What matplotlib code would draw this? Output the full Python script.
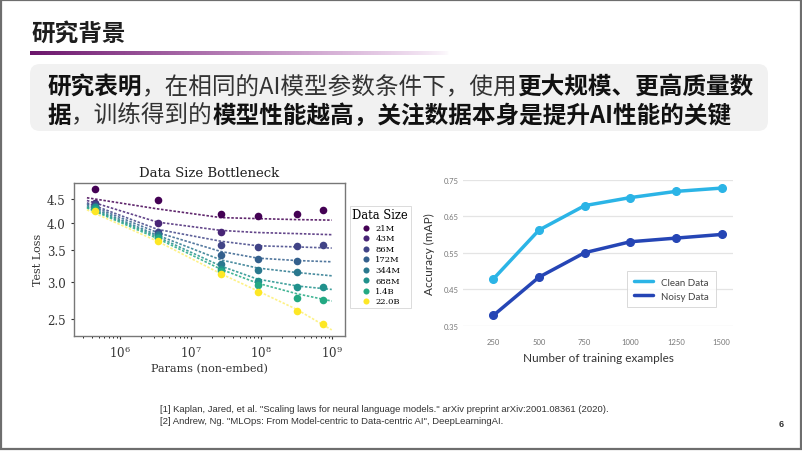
import numpy as np
import matplotlib
matplotlib.use('Agg')
import matplotlib.pyplot as plt
from matplotlib.colors import LogNorm
from matplotlib.patches import FancyBboxPatch, Rectangle
from matplotlib.ticker import FixedLocator, FixedFormatter, NullFormatter

plt.rcParams['font.family'] = ['Noto Sans CJK SC', 'DejaVu Sans']
plt.rcParams['mathtext.fontset'] = 'dejavuserif'

# ---- left chart: test loss vs params for each data size
data_labels = ['21M', '43M', '86M', '172M', '344M', '688M', '1.4B', '22.0B']
data_tokens = [2.1e7, 4.3e7, 8.6e7, 1.72e8, 3.44e8, 6.88e8, 1.4e9, 2.2e10]
params = [4.4e5, 3.4e6, 2.7e7, 8.9e7, 3.2e8, 7.4e8]
nan = np.nan
loss_21m = [4.72, 4.48, 4.18, 4.14, 4.18, 4.26]
loss_43m = [4.42, 4.01, 3.83, nan, nan, nan]
loss_86m = [4.39, 3.83, 3.60, 3.56, 3.58, 3.59]
loss_172m = [4.36, 3.80, 3.42, 3.35, 3.33, nan]
loss_344m = [4.34, 3.77, 3.28, 3.18, 3.15, nan]
loss_688m = [4.32, 3.74, 3.20, 3.01, 2.92, 2.93]
loss_1_4b = [4.29, 3.71, 3.17, 2.95, 2.77, 2.75]
loss_22b = [4.24, 3.66, 3.12, 2.86, 2.60, 2.44]

# fitted curves read at a few params values
fit_params = [3.4e5, 3.4e6, 2.7e7, 8.9e7, 3.2e8, 1.0e9]
fit_21m = [4.53, 4.29, 4.11, 4.09, 4.07, 4.06]
fit_43m = [4.47, 4.02, 3.86, 3.82, 3.80, 3.78]
fit_86m = [4.42, 3.88, 3.66, 3.58, 3.56, 3.54]
fit_172m = [4.39, 3.82, 3.48, 3.37, 3.33, 3.31]
fit_344m = [4.36, 3.77, 3.34, 3.21, 3.14, 3.09]
fit_688m = [4.33, 3.74, 3.24, 3.04, 2.94, 2.89]
fit_1_4b = [4.31, 3.71, 3.19, 2.98, 2.83, 2.73]
fit_22b = [4.27, 3.66, 3.12, 2.87, 2.62, 2.37]

losses = [loss_21m, loss_43m, loss_86m, loss_172m, loss_344m, loss_688m, loss_1_4b, loss_22b]
fits = [fit_21m, fit_43m, fit_86m, fit_172m, fit_344m, fit_688m, fit_1_4b, fit_22b]
loss_ticks = [2.5, 3.0, 3.5, 4.0, 4.5]

# ---- right chart: accuracy vs number of training examples
examples = [250, 500, 750, 1000, 1250, 1500]
clean_acc = [0.478, 0.612, 0.679, 0.701, 0.718, 0.727]
noisy_acc = [0.378, 0.483, 0.550, 0.580, 0.590, 0.600]
acc_ticks = [0.35, 0.45, 0.55, 0.65, 0.75]

W, H = 802, 452
fig = plt.figure(figsize=(W / 100, H / 100), dpi=100)
fig.patch.set_facecolor('white')

# background axes in pixel units
bg = fig.add_axes([0, 0, 1, 1])
bg.axis('off')
bg.set_zorder(-1)

bg.add_patch(Rectangle((1, 1), W - 2, H - 3, fill=False, ec='#6e6e6e', lw=1.6))

# title + gradient bar
bg.text(31, 34, '研究背景', fontsize=17, fontweight='bold', color='#1e1e1e', va='center')
grad = np.zeros((1, 256, 4))
t = np.linspace(0, 1, 256)
c0 = np.array([0.42, 0.08, 0.42])
c1 = np.array([0.75, 0.45, 0.75])
grad[0, :, :3] = c0 * (1 - t[:, None]) + c1 * t[:, None]
grad[0, :, 3] = (1 - t) ** 0.6
bg.imshow(grad, extent=(30, 450, 56, 52), aspect='auto', zorder=1)
bg.set_xlim(0, W)
bg.set_ylim(H, 0)

# grey text box
bg.add_patch(FancyBboxPatch((30, 65), 738, 67, boxstyle='round,pad=0,rounding_size=10',
                            fc='#f1f1f1', ec='none'))

renderer = fig.canvas.get_renderer()


def rich_line(x, y, segments, size=17):
    for s, bold in segments:
        txt = bg.text(x, y, s, fontsize=size, fontweight='bold' if bold else 'normal',
                      color='#111111' if bold else '#333333', va='center', ha='left')
        x += txt.get_window_extent(renderer=renderer).width


rich_line(47, 87, [('研究表明', True), ('，在相同的AI模型参数条件下，使用', False),
                   ('更大规模、更高质量数', True)])
rich_line(47, 116, [('据', True), ('，训练得到的', False),
                    ('模型性能越高，关注数据本身是提升AI性能的关键', True)])

# references
bg.text(160, 410, '[1] Kaplan, Jared, et al. "Scaling laws for neural language models." '
        'arXiv preprint arXiv:2001.08361 (2020).', family='Liberation Sans',
        fontsize=6.8, color='#333333', va='center')
bg.text(160, 422, '[2] Andrew, Ng. "MLOps: From Model-centric to Data-centric AI", DeepLearningAI.',
        family='Liberation Sans', fontsize=6.8, color='#333333', va='center')
bg.text(779, 425, '6', family='Liberation Sans', fontsize=6.5, fontweight='bold',
        color='#333333', va='center')

# ---- left chart
serif = 'DejaVu Serif'
ax1 = fig.add_axes([74 / W, 1 - 336.5 / H, 271 / W, 152.5 / H])
norm = LogNorm(vmin=min(data_tokens), vmax=max(data_tokens))
cmap = plt.get_cmap('viridis')
for lab, d, ys, fy in zip(data_labels, data_tokens, losses, fits):
    col = cmap(norm(d))
    ax1.plot(fit_params, fy, ls=(0, (1.5, 1)), lw=1.2, color=col,
             alpha=0.55 if d == data_tokens[-1] else 0.85)
    ax1.scatter(params, ys, s=30, color=col, label=lab, zorder=3, linewidths=0)
ax1.set_xscale('log')
ax1.set_yscale('log')
ax1.set_xlim(2.23e5, 1.54e9)
ax1.set_ylim(2.306, 4.87)
ax1.yaxis.set_major_locator(FixedLocator(loss_ticks))
ax1.yaxis.set_major_formatter(FixedFormatter([f'{v:.1f}' for v in loss_ticks]))
ax1.yaxis.set_minor_formatter(NullFormatter())
for lbl in ax1.get_xticklabels() + ax1.get_yticklabels():
    lbl.set_family(serif)
ax1.tick_params(labelsize=8.5, colors='#333333', length=2.5)
ax1.tick_params(which='minor', length=1.5)
for sp in ax1.spines.values():
    sp.set_color('#777777')
    sp.set_linewidth(1.0)
ax1.set_title('Data Size Bottleneck', family=serif, fontsize=9.5, color='#222222', pad=5)
ax1.set_xlabel('Params (non-embed)', family=serif, fontsize=8, color='#333333', labelpad=2)
ax1.set_ylabel('Test Loss', family=serif, fontsize=8, color='#333333', labelpad=3)
leg1 = ax1.legend(loc='upper left', bbox_to_anchor=(350 / W, 1 - 207 / H),
                  bbox_transform=fig.transFigure, title='Data Size', borderaxespad=0,
                  prop={'family': serif, 'size': 6}, frameon=True, fancybox=False,
                  edgecolor='#cccccc', labelspacing=0.3, handletextpad=0.4,
                  borderpad=0.3, handlelength=1.4, markerscale=0.8)
leg1.get_title().set_family(serif)
leg1.get_title().set_fontsize(8.3)
leg1.get_frame().set_linewidth(0.6)

# ---- right chart
sans = 'Lato'
ax2 = fig.add_axes([463 / W, 1 - 326.7 / H, 270 / W, 146 / H])
clean_col = '#2bb4e6'
noisy_col = '#2545b5'
ax2.plot(examples, clean_acc, color=clean_col, lw=2.5, marker='o', ms=5.5, label='Clean Data',
         zorder=3, solid_capstyle='round')
ax2.plot(examples, noisy_acc, color=noisy_col, lw=2.5, marker='o', ms=5.5, label='Noisy Data',
         zorder=3, solid_capstyle='round')
ax2.set_xlim(84, 1562)
ax2.set_ylim(0.35, 0.75)
ax2.set_xticks(examples)
ax2.set_yticks(acc_ticks)
ax2.set_yticklabels([f'{v:.2f}' for v in acc_ticks])
ax2.grid(axis='y', color='#e4e4e4', lw=0.9)
ax2.set_axisbelow(True)
for sp in ax2.spines.values():
    sp.set_visible(False)
ax2.tick_params(length=0, labelsize=5.5, colors='#777777', pad=3)
ax2.tick_params(axis='x', pad=9)
for lbl in ax2.get_xticklabels() + ax2.get_yticklabels():
    lbl.set_family(sans)
ax2.set_ylabel('Accuracy (mAP)', family=sans, fontsize=8.5, color='#333333', labelpad=6)
ax2.set_xlabel('Number of training examples', family=sans, fontsize=8.5, color='#333333',
               labelpad=5)
leg2 = ax2.legend(loc='upper left', bbox_to_anchor=(627 / W, 1 - 272 / H),
                  bbox_transform=fig.transFigure, prop={'family': sans, 'size': 7},
                  frameon=True, fancybox=False, edgecolor='#d0d0d0', handlelength=2.0,
                  borderpad=0.7, labelspacing=0.5, handletextpad=0.8, borderaxespad=0)
leg2.get_frame().set_linewidth(0.7)
for h in leg2.get_lines():
    h.set_marker('')
for txt in leg2.get_texts():
    txt.set_color('#444444')

fig.savefig('out.png', dpi=100, facecolor='white')
